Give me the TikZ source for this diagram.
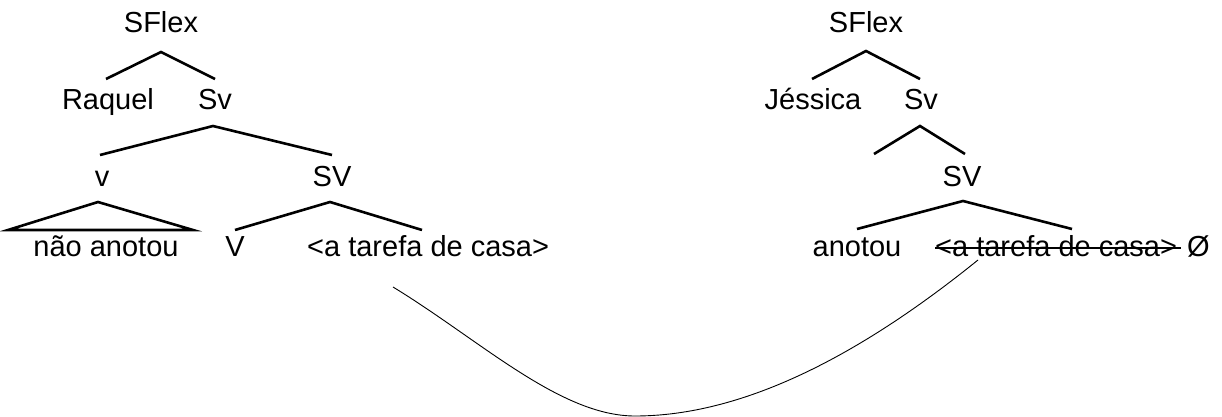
\documentclass[tikz,border=0pt]{standalone}
\usepackage{fontspec}
\setmainfont{Liberation Sans}
\begin{document}
\begin{tikzpicture}[x=1pt,y=-1pt,
  lbl/.style={inner sep=0pt, anchor=base, font=\fontsize{29}{34}\selectfont},
  lblw/.style={lbl, anchor=base west},
  branch/.style={line width=2.6pt, line cap=butt},
  strike/.style={line width=1.2pt},
  movement/.style={line width=0.9pt}]
\useasboundingbox (0,0) rectangle (1222,417);
% ---------- left tree ----------
\node[lbl] (LS) at (161,33) {SFlex};
\node[lbl] (LR) at (108,110) {Raquel};
\node[lbl] (LSv) at (215,110) {Sv};
\node[lbl] (Lv) at (102,186) {v};
\node[lbl] (LSV) at (332,186) {SV};
\node[lbl] (Lnao) at (106,256) {não anotou};
\node[lbl] (LV) at (235,256) {V};
\node[lblw] (Ltarefa) at (307,256) {<a tarefa de casa>};
\coordinate (LSp) at (161,52);
\coordinate (LSl) at (106,79);
\coordinate (LSr) at (215,79);
\coordinate (LSvp) at (213,126);
\coordinate (LSvl) at (100,155);
\coordinate (LSvr) at (332,155);
\coordinate (Lvp) at (98,202);
\coordinate (Lvl) at (8,230);
\coordinate (Lvr) at (193,230);
\coordinate (LSVp) at (330,202);
\coordinate (LSVl) at (235,230);
\coordinate (LSVr) at (422,230);
\draw[branch] (LSl) -- (LSp) -- (LSr);
\draw[branch] (LSvl) -- (LSvp) -- (LSvr);
\draw[branch, line join=miter] (Lvl) -- (Lvp) -- (Lvr) -- cycle;
\draw[branch] (LSVl) -- (LSVp) -- (LSVr);
% ---------- right tree ----------
\node[lbl] (RS) at (866,33) {SFlex};
\node[lbl] (RJ) at (813,110) {Jéssica};
\node[lbl] (RSv) at (921,110) {Sv};
\node[lbl] (RSV) at (962,186) {SV};
\node[lbl] (Ranotou) at (857,256) {anotou};
\node[lblw] (Rtarefa) at (935,256) {<a tarefa de casa>};
\node[lblw] (Rnull) at (1187,256) {Ø};
\coordinate (RSp) at (866,51);
\coordinate (RSl) at (812,79);
\coordinate (RSr) at (920,79);
\coordinate (RSvp) at (920,126);
\coordinate (RSvl) at (874,154);
\coordinate (RSvr) at (965,154);
\coordinate (RSVp) at (963,201);
\coordinate (RSVl) at (857,229);
\coordinate (RSVr) at (1072,229);
\draw[branch] (RSl) -- (RSp) -- (RSr);
\draw[branch] (RSvl) -- (RSvp) -- (RSvr);
\draw[branch] (RSVl) -- (RSVp) -- (RSVr);
\draw[strike] ([yshift=8pt]Rtarefa.base west) -- ([yshift=8pt,xshift=4pt]Rtarefa.base east);
% ---------- movement curve ----------
\coordinate (cL) at (393,287);
\coordinate (cB) at (635,416);
\coordinate (cR) at (978,260);
\draw[movement] (cL) .. controls (480,340) and (560,416) .. (cB)
  .. controls (760,416) and (885,335) .. (cR);
\end{tikzpicture}
\end{document}
